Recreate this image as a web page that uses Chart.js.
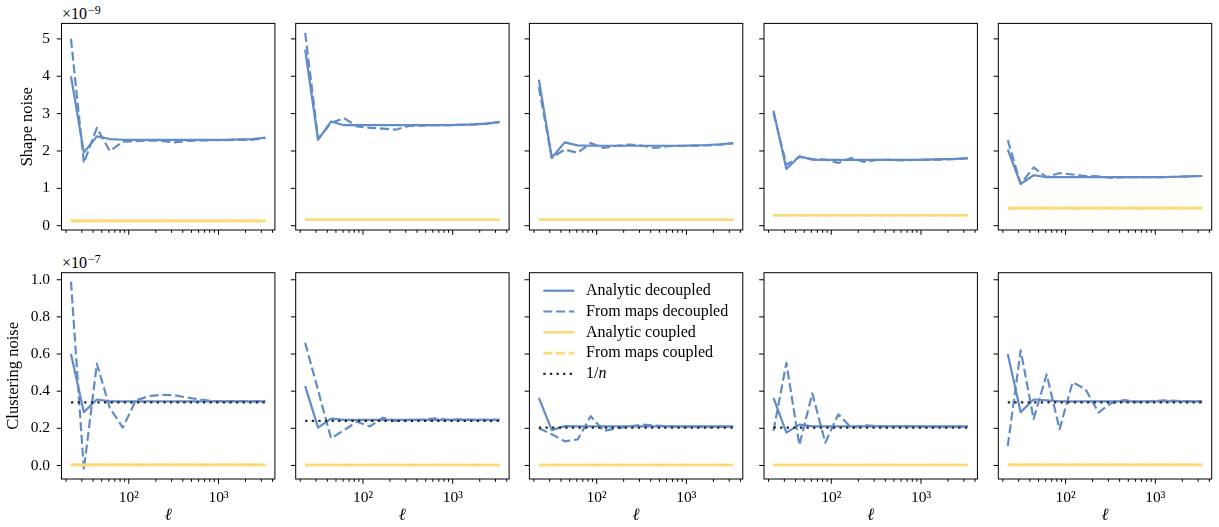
<!DOCTYPE html>
<html><head><meta charset="utf-8">
<script src="https://cdn.jsdelivr.net/npm/chart.js@4.4.1/dist/chart.umd.min.js"></script>
<style>
html,body{margin:0;padding:0;background:#fff;}
#wrap{position:relative;width:1219px;height:527px;overflow:hidden;background:#fff;}
canvas{position:absolute;}
.off{position:absolute;font-family:"Liberation Serif","DejaVu Serif",serif;font-size:16px;line-height:16px;color:#000;white-space:nowrap;}
.off span{font-size:12px;position:relative;top:-5px;margin-left:1px;}
</style></head><body><div id="wrap"></div>
<script>
// multipoles (bin centres)
const ell = [22.7, 31.6, 44.1, 61.5, 85.8, 119.7, 166.9, 232.8, 324.6, 452.7, 631, 880, 1228, 1712, 2388, 3327];
const xTickValues = [20,30,40,50,60,70,80,90,100,200,300,400,500,600,700,800,900,1000,2000,3000,4000];
const xTickLabels = {100: '10²', 1000: '10³'};
const shapeTicks = [0, 1, 2, 3, 4, 5];
const clusTicks = [0, 0.2, 0.4, 0.6, 0.8, 1.0];
const rowLabels = ['Shape noise', 'Clustering noise'];
const rowOffsets = ['−9', '−7'];
const seriesLabels = ['Analytic decoupled', 'From maps decoupled', 'Analytic coupled', 'From maps coupled', '1/n'];

// Shape noise (×1e-9), one array per redshift bin
const shapeAnalyticDecoupled = [
  [4.00, 1.96, 2.39, 2.32, 2.30, 2.30, 2.30, 2.30, 2.30, 2.30, 2.30, 2.30, 2.30, 2.31, 2.32, 2.36],
  [4.71, 2.30, 2.79, 2.69, 2.69, 2.69, 2.69, 2.69, 2.69, 2.69, 2.69, 2.69, 2.70, 2.71, 2.73, 2.78],
  [3.91, 1.82, 2.23, 2.15, 2.14, 2.14, 2.14, 2.14, 2.14, 2.14, 2.14, 2.14, 2.15, 2.16, 2.18, 2.21],
  [3.08, 1.52, 1.86, 1.77, 1.76, 1.76, 1.76, 1.76, 1.76, 1.76, 1.76, 1.76, 1.77, 1.78, 1.79, 1.81],
  [2.04, 1.12, 1.35, 1.30, 1.30, 1.30, 1.30, 1.30, 1.30, 1.30, 1.30, 1.30, 1.30, 1.31, 1.32, 1.33]
];
const shapeMapsDecoupled = [
  [5.00, 1.68, 2.62, 2.00, 2.25, 2.26, 2.28, 2.27, 2.23, 2.27, 2.28, 2.29, 2.29, 2.30, 2.30, 2.34],
  [5.16, 2.33, 2.75, 2.88, 2.66, 2.62, 2.60, 2.57, 2.67, 2.68, 2.69, 2.69, 2.70, 2.71, 2.73, 2.77],
  [3.71, 1.82, 2.04, 1.95, 2.21, 2.08, 2.14, 2.17, 2.14, 2.08, 2.13, 2.14, 2.14, 2.15, 2.17, 2.20],
  [3.02, 1.63, 1.84, 1.78, 1.77, 1.68, 1.81, 1.71, 1.76, 1.76, 1.75, 1.76, 1.77, 1.77, 1.78, 1.80],
  [2.29, 1.12, 1.56, 1.30, 1.41, 1.37, 1.33, 1.32, 1.28, 1.30, 1.30, 1.30, 1.30, 1.31, 1.32, 1.33]
];
const shapeAnalyticCoupled = [
  [0.13, 0.13, 0.13, 0.13, 0.13, 0.13, 0.13, 0.13, 0.13, 0.13, 0.13, 0.13, 0.13, 0.13, 0.13, 0.13],
  [0.16, 0.16, 0.16, 0.16, 0.16, 0.16, 0.16, 0.16, 0.16, 0.16, 0.16, 0.16, 0.16, 0.16, 0.16, 0.16],
  [0.16, 0.16, 0.16, 0.16, 0.16, 0.16, 0.16, 0.16, 0.16, 0.16, 0.16, 0.16, 0.16, 0.16, 0.16, 0.16],
  [0.28, 0.28, 0.28, 0.28, 0.28, 0.28, 0.28, 0.28, 0.28, 0.28, 0.28, 0.28, 0.28, 0.28, 0.28, 0.28],
  [0.47, 0.47, 0.47, 0.47, 0.47, 0.47, 0.47, 0.47, 0.47, 0.47, 0.47, 0.47, 0.47, 0.47, 0.47, 0.47]
];
const shapeMapsCoupled = [
  [0.13, 0.13, 0.13, 0.13, 0.13, 0.13, 0.13, 0.13, 0.13, 0.13, 0.13, 0.13, 0.13, 0.13, 0.13, 0.13],
  [0.16, 0.16, 0.16, 0.16, 0.16, 0.16, 0.16, 0.16, 0.16, 0.16, 0.16, 0.16, 0.16, 0.16, 0.16, 0.16],
  [0.16, 0.16, 0.16, 0.16, 0.16, 0.16, 0.16, 0.16, 0.16, 0.16, 0.16, 0.16, 0.16, 0.16, 0.16, 0.16],
  [0.28, 0.28, 0.28, 0.28, 0.28, 0.28, 0.28, 0.28, 0.28, 0.28, 0.28, 0.28, 0.28, 0.28, 0.28, 0.28],
  [0.47, 0.47, 0.47, 0.47, 0.47, 0.47, 0.47, 0.47, 0.47, 0.47, 0.47, 0.47, 0.47, 0.47, 0.47, 0.47]
];

// Clustering noise (×1e-7)
const clusAnalyticDecoupled = [
  [0.600, 0.287, 0.355, 0.345, 0.345, 0.345, 0.345, 0.345, 0.345, 0.345, 0.345, 0.345, 0.345, 0.345, 0.345, 0.345],
  [0.427, 0.204, 0.252, 0.245, 0.245, 0.245, 0.245, 0.245, 0.245, 0.245, 0.245, 0.245, 0.245, 0.245, 0.245, 0.245],
  [0.364, 0.190, 0.212, 0.210, 0.210, 0.210, 0.210, 0.210, 0.210, 0.210, 0.210, 0.210, 0.210, 0.210, 0.210, 0.210],
  [0.364, 0.177, 0.220, 0.210, 0.210, 0.210, 0.210, 0.210, 0.210, 0.210, 0.210, 0.210, 0.210, 0.210, 0.210, 0.210],
  [0.600, 0.287, 0.355, 0.350, 0.345, 0.345, 0.345, 0.345, 0.345, 0.345, 0.345, 0.345, 0.345, 0.345, 0.345, 0.345]
];
const clusMapsDecoupled = [
  [0.990, -0.023, 0.548, 0.310, 0.204, 0.350, 0.373, 0.380, 0.378, 0.365, 0.355, 0.347, 0.345, 0.347, 0.345, 0.348],
  [0.660, 0.405, 0.146, 0.190, 0.235, 0.210, 0.257, 0.240, 0.245, 0.245, 0.253, 0.245, 0.248, 0.245, 0.245, 0.245],
  [0.200, 0.168, 0.130, 0.140, 0.265, 0.186, 0.200, 0.210, 0.220, 0.215, 0.210, 0.208, 0.208, 0.207, 0.208, 0.208],
  [0.186, 0.552, 0.110, 0.388, 0.123, 0.275, 0.204, 0.216, 0.212, 0.210, 0.212, 0.210, 0.208, 0.208, 0.208, 0.210],
  [0.105, 0.620, 0.250, 0.490, 0.195, 0.448, 0.410, 0.285, 0.337, 0.352, 0.342, 0.345, 0.350, 0.348, 0.345, 0.345]
];
const clusAnalyticCoupled = [
  [0.003, 0.003, 0.003, 0.003, 0.003, 0.003, 0.003, 0.003, 0.003, 0.003, 0.003, 0.003, 0.003, 0.003, 0.003, 0.003],
  [0.002, 0.002, 0.002, 0.002, 0.002, 0.002, 0.002, 0.002, 0.002, 0.002, 0.002, 0.002, 0.002, 0.002, 0.002, 0.002],
  [0.002, 0.002, 0.002, 0.002, 0.002, 0.002, 0.002, 0.002, 0.002, 0.002, 0.002, 0.002, 0.002, 0.002, 0.002, 0.002],
  [0.002, 0.002, 0.002, 0.002, 0.002, 0.002, 0.002, 0.002, 0.002, 0.002, 0.002, 0.002, 0.002, 0.002, 0.002, 0.002],
  [0.003, 0.003, 0.003, 0.003, 0.003, 0.003, 0.003, 0.003, 0.003, 0.003, 0.003, 0.003, 0.003, 0.003, 0.003, 0.003]
];
const clusMapsCoupled = [
  [0.003, 0.003, 0.003, 0.003, 0.003, 0.003, 0.003, 0.003, 0.003, 0.003, 0.003, 0.003, 0.003, 0.003, 0.003, 0.003],
  [0.002, 0.002, 0.002, 0.002, 0.002, 0.002, 0.002, 0.002, 0.002, 0.002, 0.002, 0.002, 0.002, 0.002, 0.002, 0.002],
  [0.002, 0.002, 0.002, 0.002, 0.002, 0.002, 0.002, 0.002, 0.002, 0.002, 0.002, 0.002, 0.002, 0.002, 0.002, 0.002],
  [0.002, 0.002, 0.002, 0.002, 0.002, 0.002, 0.002, 0.002, 0.002, 0.002, 0.002, 0.002, 0.002, 0.002, 0.002, 0.002],
  [0.003, 0.003, 0.003, 0.003, 0.003, 0.003, 0.003, 0.003, 0.003, 0.003, 0.003, 0.003, 0.003, 0.003, 0.003, 0.003]
];
const clusInvN = [
  [0.340, 0.340, 0.340, 0.340, 0.340, 0.340, 0.340, 0.340, 0.340, 0.340, 0.340, 0.340, 0.340, 0.340, 0.340, 0.340],
  [0.240, 0.240, 0.240, 0.240, 0.240, 0.240, 0.240, 0.240, 0.240, 0.240, 0.240, 0.240, 0.240, 0.240, 0.240, 0.240],
  [0.204, 0.204, 0.204, 0.204, 0.204, 0.204, 0.204, 0.204, 0.204, 0.204, 0.204, 0.204, 0.204, 0.204, 0.204, 0.204],
  [0.204, 0.204, 0.204, 0.204, 0.204, 0.204, 0.204, 0.204, 0.204, 0.204, 0.204, 0.204, 0.204, 0.204, 0.204, 0.204],
  [0.340, 0.340, 0.340, 0.340, 0.340, 0.340, 0.340, 0.340, 0.340, 0.340, 0.340, 0.340, 0.340, 0.340, 0.340, 0.340]
];

// ---------- styling / layout ----------
const BLUE = 'rgb(98,140,199)';
const YELLOW = 'rgb(254,217,120)';
const DOT = '#262626';
const FONT = '"Liberation Serif", "DejaVu Serif", serif';
const X_MIN = 17.8, X_MAX = 4250;
const yRanges = [[-0.115, 5.415], [-0.073, 1.038]];
const colLeft = [61.5, 295.7, 529.4, 764.0, 998.3];
const plotW = 213.4;
const rowGeom = [
  {top: 23.4, bottom: 230.0, cTop: 0, cBottom: 254},
  {top: 272.7, bottom: 479.0, cTop: 250, cBottom: 527}
];

Chart.defaults.font.family = FONT;
Chart.defaults.color = '#000';

const frameTicks = {
  id: 'frameTicks',
  afterDraw(chart, args, opts) {
    const {ctx, chartArea: a, scales: {x, y}} = chart;
    ctx.save();
    ctx.strokeStyle = '#000';
    ctx.lineWidth = 1;
    ctx.beginPath();
    for (const v of xTickValues) {
      if (v < x.min || v > x.max) continue;
      const px = x.getPixelForValue(v);
      const len = xTickLabels[v] ? 4.8 : 2.8;
      ctx.moveTo(px, a.bottom);
      ctx.lineTo(px, a.bottom + len);
    }
    for (const v of opts.yTicks) {
      const py = y.getPixelForValue(v);
      ctx.moveTo(a.left, py);
      ctx.lineTo(a.left - 4.8, py);
    }
    ctx.stroke();
    ctx.strokeRect(a.left, a.top, a.right - a.left, a.bottom - a.top);
    ctx.restore();
  }
};

const mplLegend = {
  id: 'mplLegend',
  afterDraw(chart, args, opts) {
    if (!opts.show) return;
    const {ctx, chartArea: a} = chart;
    ctx.save();
    chart.data.datasets.forEach((d, i) => {
      const cy = a.top + 18 + i * 20.8;
      ctx.beginPath();
      ctx.strokeStyle = d.borderColor;
      ctx.lineWidth = d.borderWidth;
      ctx.setLineDash(d.borderDash || []);
      ctx.moveTo(a.left + 13.9, cy);
      ctx.lineTo(a.left + 44.9, cy);
      ctx.stroke();
      ctx.setLineDash([]);
      ctx.fillStyle = '#000';
      ctx.textBaseline = 'middle';
      ctx.textAlign = 'left';
      if (d.label === '1/n') {
        ctx.font = '16px ' + FONT;
        ctx.fillText('1/', a.left + 56.6, cy);
        const w = ctx.measureText('1/').width;
        ctx.font = 'italic 16px ' + FONT;
        ctx.fillText('n', a.left + 56.6 + w, cy);
      } else {
        ctx.font = '16px ' + FONT;
        ctx.fillText(d.label, a.left + 56.6, cy);
      }
    });
    ctx.restore();
  }
};

function ds(label, vals, color, width, dash, order) {
  return {
    label, data: ell.map((x, i) => ({x, y: vals[i]})),
    borderColor: color, backgroundColor: color, borderWidth: width,
    borderDash: dash, pointRadius: 0, pointHoverRadius: 0, fill: false,
    tension: 0, borderJoinStyle: 'round', borderCapStyle: 'butt', order
  };
}

const wrap = document.getElementById('wrap');
const DASH = [9, 3.8];

for (let r = 0; r < 2; r++) {
  const g = rowGeom[r];
  const off = document.createElement('div');
  off.className = 'off';
  off.style.left = '62px';
  off.style.top = (r === 0 ? 6 : 255) + 'px';
  off.innerHTML = '×10<span>' + rowOffsets[r] + '</span>';
  wrap.appendChild(off);

  for (let c = 0; c < 5; c++) {
    const cLeft = c === 0 ? 0 : Math.floor(colLeft[c] - 22);
    const padL = colLeft[c] - cLeft;
    const cW = Math.ceil(padL + plotW + 12);
    const padR = cW - padL - plotW;
    const cH = g.cBottom - g.cTop;
    const padT = g.top - g.cTop;
    const padB = g.cBottom - g.bottom;

    const cv = document.createElement('canvas');
    cv.width = cW; cv.height = cH;
    cv.style.left = cLeft + 'px'; cv.style.top = g.cTop + 'px';
    cv.style.width = cW + 'px'; cv.style.height = cH + 'px';
    wrap.appendChild(cv);

    let datasets, yTicks;
    if (r === 0) {
      yTicks = shapeTicks;
      datasets = [
        ds(seriesLabels[0], shapeAnalyticDecoupled[c], BLUE, 2.2, [], 5),
        ds(seriesLabels[1], shapeMapsDecoupled[c], BLUE, 2.2, DASH, 4),
        ds(seriesLabels[2], shapeAnalyticCoupled[c], YELLOW, 2.6, [], 3),
        ds(seriesLabels[3], shapeMapsCoupled[c], YELLOW, 2.6, DASH, 2)
      ];
    } else {
      yTicks = clusTicks;
      datasets = [
        ds(seriesLabels[0], clusAnalyticDecoupled[c], BLUE, 2.2, [], 5),
        ds(seriesLabels[1], clusMapsDecoupled[c], BLUE, 2.2, DASH, 4),
        ds(seriesLabels[2], clusAnalyticCoupled[c], YELLOW, 2.6, [], 3),
        ds(seriesLabels[3], clusMapsCoupled[c], YELLOW, 2.6, DASH, 2),
        ds(seriesLabels[4], clusInvN[c], DOT, 2.3, [2.3, 4.3], 1)
      ];
    }

    new Chart(cv, {
      type: 'line',
      data: {datasets},
      options: {
        responsive: false, animation: false, devicePixelRatio: 1,
        layout: {padding: {left: 0, top: padT, right: padR, bottom: 0}},
        plugins: {
          legend: {display: false}, tooltip: {enabled: false},
          frameTicks: {yTicks},
          mplLegend: {show: r === 1 && c === 2}
        },
        events: [],
        scales: {
          x: {
            type: 'logarithmic', min: X_MIN, max: X_MAX,
            afterBuildTicks: s => { s.ticks = xTickValues.map(v => ({value: v})); },
            afterFit: s => { s.height = padB; },
            grid: {display: false, drawTicks: false},
            border: {display: false},
            ticks: {
              display: r === 1, autoSkip: false, maxRotation: 0, minRotation: 0,
              padding: 9.5, color: '#000', font: {size: 15.5, family: FONT},
              callback: v => xTickLabels[Math.round(v)] || ''
            },
            title: {
              display: r === 1, text: 'ℓ', color: '#000',
              font: {size: 17, style: 'italic', family: FONT},
              padding: {top: 0, bottom: 1.3}
            }
          },
          y: {
            type: 'linear', min: yRanges[r][0], max: yRanges[r][1],
            afterBuildTicks: s => { s.ticks = yTicks.map(v => ({value: v})); },
            afterFit: s => { s.width = padL; },
            grid: {display: false, drawTicks: false},
            border: {display: false},
            ticks: {
              display: c === 0, autoSkip: false, padding: 11.5, color: '#000',
              font: {size: 15.5, family: FONT},
              callback: v => r === 0 ? String(Math.round(v)) : Number(v).toFixed(1)
            },
            title: {
              display: c === 0, text: rowLabels[r], color: '#000',
              font: {size: 16.5, family: FONT},
              padding: {top: r === 0 ? 17.4 : 4.1, bottom: 0}
            }
          }
        }
      },
      plugins: [frameTicks, mplLegend]
    });
  }
}
</script>
</body></html>
